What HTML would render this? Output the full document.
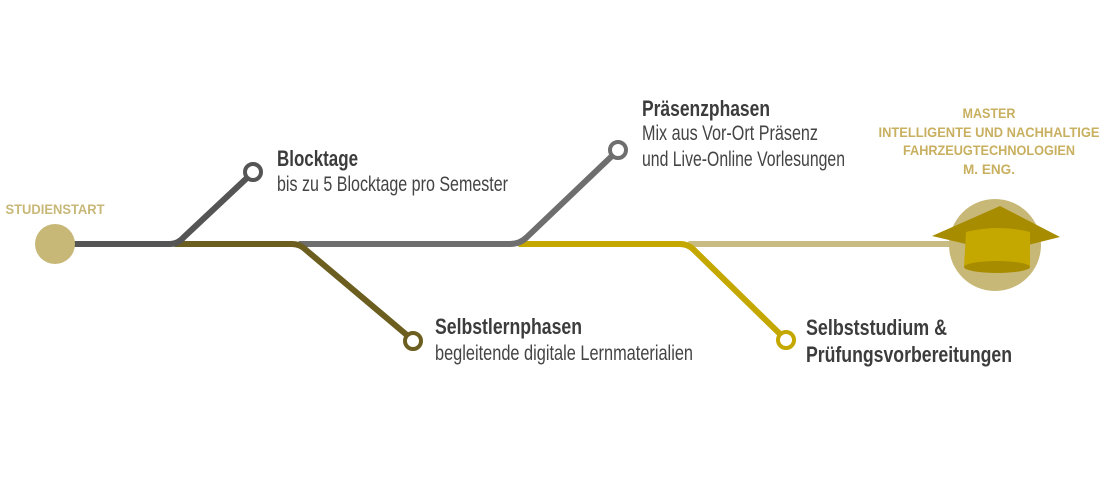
<!DOCTYPE html>
<html><head><meta charset="utf-8"><style>
html,body{margin:0;padding:0;background:#fff;}
svg{display:block;}
.t{font-family:"Liberation Sans Narrow","Liberation Sans",sans-serif;}
</style></head><body>
<svg width="1100" height="500" viewBox="0 0 1100 500" xmlns="http://www.w3.org/2000/svg">
<g fill="none" stroke-width="6" stroke-linecap="round" stroke-linejoin="round">
<path d="M690 244 H960" stroke="#c8bc82"/>
<path d="M520 244 H680 Q688 244 694 250 L780 334" stroke="#c4a800"/>
<path d="M300 244 H510 Q520 244 527 237 L613 155" stroke="#6e6e6e"/>
<path d="M175 244 H292 Q300 244 306 250 L408 336" stroke="#6b5e1f"/>
<path d="M60 244 H170 Q178 244 184 237 L248 177" stroke="#555555"/>
</g>
<circle cx="55" cy="244" r="20" fill="#c8b878"/>
<circle cx="253" cy="172" r="8" fill="#fff" stroke="#555" stroke-width="4"/>
<circle cx="618" cy="150" r="8" fill="#fff" stroke="#6e6e6e" stroke-width="4"/>
<circle cx="413" cy="341" r="8" fill="#fff" stroke="#6b5e1f" stroke-width="4"/>
<circle cx="786" cy="340" r="8" fill="#fff" stroke="#c4a800" stroke-width="4"/>
<circle cx="995" cy="245" r="46" fill="#c8b878"/>
<polygon points="932,236 1000,206 1060,237 1000,252" fill="#a88c00"/>
<path d="M966 232 Q998 224 1030 232 L1030 267 Q998 260 964 267 Z" fill="#c4a800"/>
<ellipse cx="997" cy="267" rx="33" ry="6" fill="#a88c00"/>
<g class="t">
<text x="55" y="214" text-anchor="middle" font-size="14" font-weight="bold" fill="#c8b878" textLength="99" lengthAdjust="spacingAndGlyphs">STUDIENSTART</text>
<text x="277" y="166" font-size="22" font-weight="bold" fill="#3c3c3c" textLength="81" lengthAdjust="spacingAndGlyphs">Blocktage</text>
<text x="277" y="191" font-size="21" fill="#444" textLength="231" lengthAdjust="spacingAndGlyphs">bis zu 5 Blocktage pro Semester</text>
<text x="642" y="116" font-size="22" font-weight="bold" fill="#3c3c3c" textLength="128" lengthAdjust="spacingAndGlyphs">Präsenzphasen</text>
<text x="642" y="140" font-size="21" fill="#444" textLength="176" lengthAdjust="spacingAndGlyphs">Mix aus Vor-Ort Präsenz</text>
<text x="642" y="166" font-size="21" fill="#444" textLength="203" lengthAdjust="spacingAndGlyphs">und Live-Online Vorlesungen</text>
<text x="435" y="334" font-size="22" font-weight="bold" fill="#3c3c3c" textLength="147" lengthAdjust="spacingAndGlyphs">Selbstlernphasen</text>
<text x="435" y="360" font-size="21" fill="#444" textLength="258" lengthAdjust="spacingAndGlyphs">begleitende digitale Lernmaterialien</text>
<text x="806" y="335" font-size="22" font-weight="bold" fill="#3c3c3c" textLength="141" lengthAdjust="spacingAndGlyphs">Selbststudium &amp;</text>
<text x="806" y="362" font-size="22" font-weight="bold" fill="#3c3c3c" textLength="206" lengthAdjust="spacingAndGlyphs">Prüfungsvorbereitungen</text>
<g font-size="14" font-weight="bold" fill="#c8b060" text-anchor="middle">
<text x="989" y="118" textLength="53" lengthAdjust="spacingAndGlyphs">MASTER</text>
<text x="989" y="137" textLength="221" lengthAdjust="spacingAndGlyphs">INTELLIGENTE UND NACHHALTIGE</text>
<text x="989" y="155" textLength="172" lengthAdjust="spacingAndGlyphs">FAHRZEUGTECHNOLOGIEN</text>
<text x="989" y="174" textLength="52" lengthAdjust="spacingAndGlyphs">M. ENG.</text>
</g>
</g>
</svg>
</body></html>
